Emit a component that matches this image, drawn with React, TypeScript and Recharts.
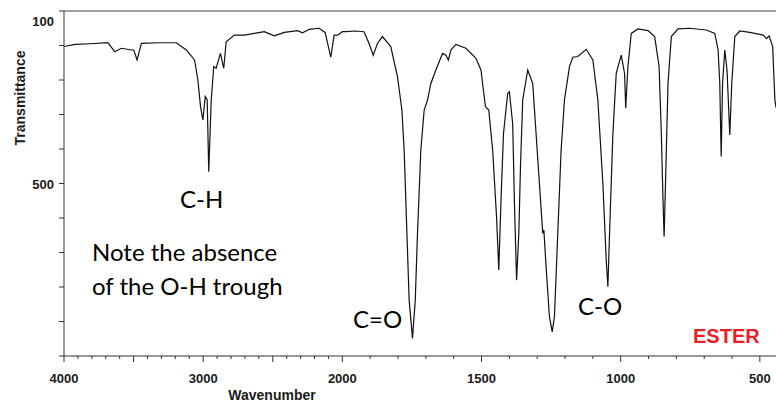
import { LineChart, Line, XAxis, YAxis, ReferenceLine } from 'recharts';

// wavenumber (cm-1) -> transmittance (%)
const wavenumbers = [
  4000, 3921, 3814, 3685, 3635, 3587, 3515, 3499, 3475, 3444, 3313, 3193, 3121, 3062, 3038, 3019, 3002,
  2985, 2971, 2960, 2942, 2924, 2907, 2876, 2852, 2835, 2775, 2704, 2632, 2561, 2489, 2417, 2322, 2286,
  2238, 2167, 2124, 2083, 2059, 2034, 2000, 1988, 1954, 1922, 1904, 1889, 1874, 1856, 1826, 1802, 1786,
  1778, 1770, 1760, 1748, 1738, 1730, 1718, 1706, 1694, 1682, 1664, 1640, 1628, 1619, 1610, 1592, 1556,
  1520, 1502, 1486, 1474, 1460, 1446, 1438, 1430, 1421, 1406, 1400, 1388, 1382, 1374, 1366, 1360, 1352,
  1334, 1316, 1304, 1292, 1280, 1276, 1268, 1256, 1246, 1238, 1226, 1214, 1202, 1184, 1172, 1154, 1124,
  1100, 1082, 1064, 1052, 1046, 1040, 1028, 1016, 998, 986, 982, 974, 962, 938, 902, 878, 862, 854, 848,
  844, 839, 830, 818, 794, 752, 692, 662, 650, 644, 639, 634, 626, 618, 608, 601, 590, 572, 536, 488, 476,
  467, 454, 446, 442,
];
const transmittance = [
  89.7, 90.3, 90.5, 90.8, 88.2, 89.2, 88.7, 88.7, 85.8, 90.6, 90.8, 90.8, 88.7, 85.8, 80, 72.3, 68.4,
  75.2, 74.2, 53.4, 74.2, 83.9, 83.4, 87.7, 83.4, 91.1, 93.0, 93.0, 93.5, 94.0, 92.8, 93.8, 94.3, 93.7,
  94.7, 95, 93.8, 86.6, 93, 93, 94, 94, 94.2, 94, 90.6, 87.2, 90.6, 92.6, 89.7, 81, 71.3,
  59.7, 40.4, 16.2, 5.1, 16.2, 35.6, 59.7, 71.3, 74.2, 79, 82.9, 87.7, 87.2, 85.8, 88.7, 90.3, 89.2,
  86.3, 82.9, 72.3, 71.3, 59.7, 40.4, 24.9, 45.2, 64.5, 76.1, 76.6, 67.4, 45.2, 22, 35.6, 54.9, 74.2,
  82.9, 79, 64.5, 50, 35.6, 36.5, 25.9, 11.4, 7, 11.4, 35.6, 59.7, 74.2, 83.9, 86.6, 86.8, 88.9,
  85.8, 74.2, 50, 27.8, 20.1, 35.6, 64.5, 81.9, 87.2, 81.9, 71.8, 83.9, 93.5, 94.8, 94.3, 92.6, 83.9, 64.5, 45.2,
  34.6, 50, 79, 92.6, 94.8, 95, 94.5, 93.5, 88.7, 79, 57.8, 79, 88.7, 82.9, 64.1, 79, 92.6, 94.2, 93.8, 93, 92,
  92.8, 89.7, 74.2, 72,
];

const xLabels = [4000, 3000, 2000, 1500, 1000, 500];
const yTicks = [0, 10, 20, 30, 40, 50, 60, 70, 80, 90, 100];
const yLabels: Record<number, string> = { 50: '500', 100: '100' };

// the wavenumber axis is compressed 2x above 2000
const toPos = (w: number) => (w >= 2000 ? (4000 - w) / 2 : 1000 + (2000 - w));
const fromPos = (p: number) => (p <= 1000 ? 4000 - 2 * p : 2000 - (p - 1000));

const data = wavenumbers.map((w, i) => ({ pos: toPos(w), t: transmittance[i] }));
const xTicks: number[] = [];
for (let w = 4000; w >= 500; w -= 100) xTicks.push(toPos(w));

const axisFont = { fontFamily: '"Liberation Sans", Arial, sans-serif', fontWeight: 700, fill: '#1a1a1a' };
const noteFont = { fontFamily: 'Lato, sans-serif', fontSize: 24, fill: '#000' };

function XTick(props: any) {
  const { x, y, payload } = props;
  const w = Math.round(fromPos(payload.value));
  const len = w % 500 === 0 ? 6 : 3;
  return (
    <g>
      <line x1={x} x2={x} y1={y} y2={y + len} stroke="#333" />
      {xLabels.includes(w) && (
        <text x={x} y={y + 27} textAnchor="middle" fontSize={13} {...axisFont}>
          {w}
        </text>
      )}
    </g>
  );
}

function YTick(props: any) {
  const { x, y, payload } = props;
  const label = yLabels[payload.value];
  return (
    <g>
      <line x1={x - 5} x2={x} y1={y} y2={y} stroke="#333" />
      {label && (
        <text x={x - 10} y={payload.value === 100 ? y + 15 : y + 5} textAnchor="end" fontSize={13} {...axisFont}>
          {label}
        </text>
      )}
    </g>
  );
}

export default function App() {
  return (
    <div style={{ position: 'absolute', left: 0, top: 0, width: 776, height: 404, background: '#fff' }}>
      <LineChart width={776} height={404} data={data} margin={{ top: 11, right: 0, left: 0, bottom: 0 }}>
        <XAxis
          dataKey="pos"
          type="number"
          domain={[0, 2558]}
          ticks={xTicks}
          interval={0}
          tickSize={0}
          tickMargin={0}
          height={48}
          stroke="#333"
          tick={<XTick />}
          allowDataOverflow
        />
        <YAxis
          type="number"
          domain={[0, 100]}
          ticks={yTicks}
          interval={0}
          tickSize={0}
          tickMargin={0}
          width={64}
          stroke="#333"
          tick={<YTick />}
        />
        <ReferenceLine y={100} stroke="#444" />
        <Line type="linear" dataKey="t" stroke="#111" strokeWidth={1.2} dot={false} isAnimationActive={false} />
      </LineChart>
      <svg width={776} height={404} style={{ position: 'absolute', left: 0, top: 0, pointerEvents: 'none' }}>
        <text x={25} y={98} transform="rotate(-90 25 98)" textAnchor="middle" fontSize={14} {...axisFont}>
          Transmittance
        </text>
        <text x={272} y={400} textAnchor="middle" fontSize={14} {...axisFont}>
          Wavenumber
        </text>
        <text x={180} y={208} {...noteFont}>C-H</text>
        <text x={92} y={261} {...noteFont}>Note the absence</text>
        <text x={92} y={295} {...noteFont}>of the O-H trough</text>
        <text x={353} y={328} {...noteFont}>C=O</text>
        <text x={578} y={315} {...noteFont}>C-O</text>
        <text x={693} y={343} fontFamily='"Liberation Sans", Arial, sans-serif' fontWeight={700} fontSize={20} fill="#e8202a">
          ESTER
        </text>
      </svg>
    </div>
  );
}
